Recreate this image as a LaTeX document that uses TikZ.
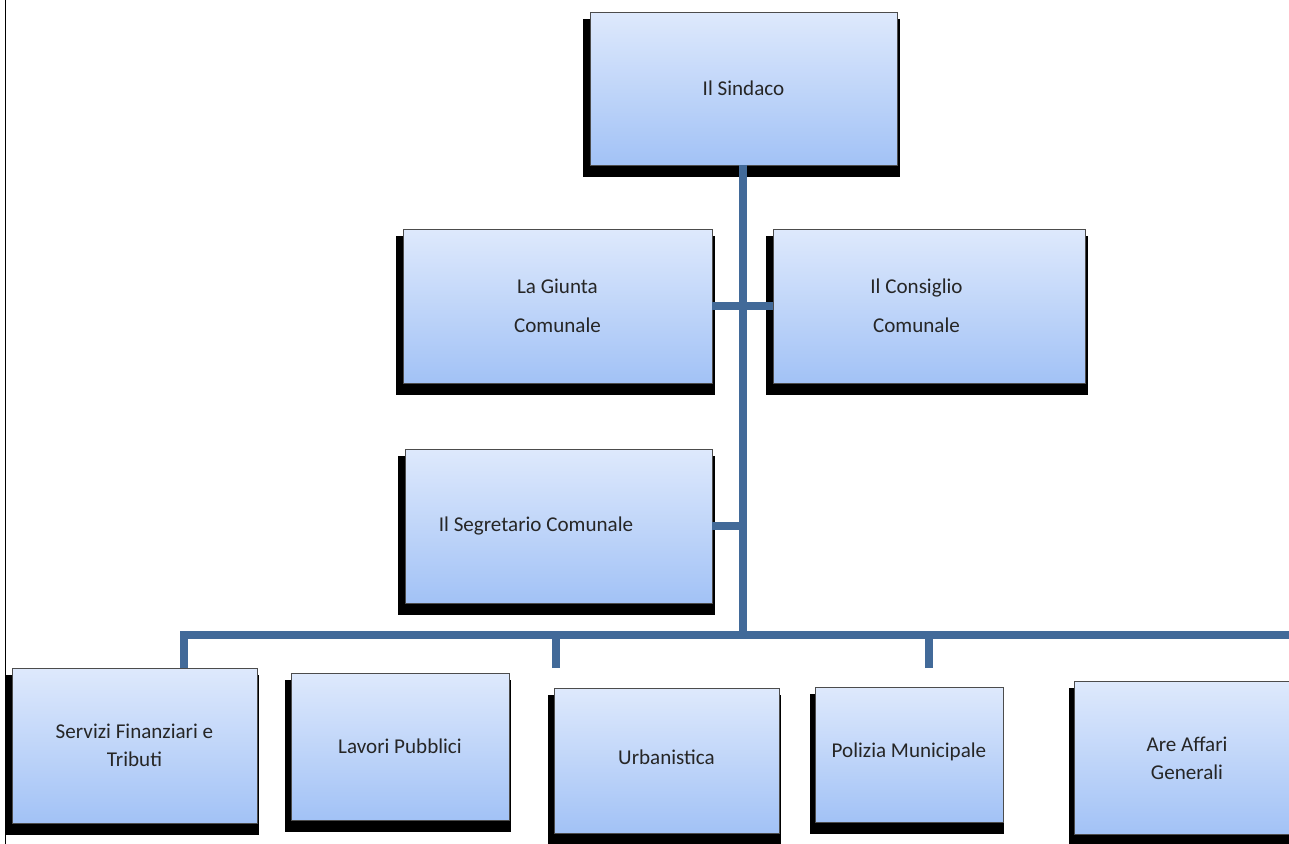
\documentclass[tikz,border=0pt]{standalone}
\usepackage{fontspec}
\setmainfont{Carlito}
\usetikzlibrary{shadows,positioning}

\definecolor{boxtop}{RGB}{222,233,252}
\definecolor{boxbot}{RGB}{162,194,246}
\definecolor{linkblue}{RGB}{66,106,153}

\begin{document}
\begin{tikzpicture}[x=0.02cm, y=-0.02cm,
  box/.style = {shape = rectangle, draw = black!70, thin, top color = boxtop, bottom color = boxbot,
    align = center, font = \fontsize{12}{16}\selectfont, text = black!85,
    drop shadow = {shadow xshift = -0.04cm, shadow yshift = -0.18cm, shadow scale = 1.035,
      rounded corners = 2pt, fill = black, opacity = 1}},
  link/.style = {draw = linkblue, line width = 4.5pt}]
\useasboundingbox (0,0) rectangle (1289,844);
\clip (0,0) rectangle (1289,844);
\draw[black, line width = 0.9pt] (5.5,0) -- (5.5,844);

\node[box, minimum width = 6.14cm, minimum height = 3.06cm] (sindaco) at (743.5,88.5) {Il Sindaco};
\node[box, minimum width = 6.18cm, minimum height = 3.08cm] (giunta) at (557.5,306) {La Giunta\\[6pt]Comunale};
\node[box, minimum width = 6.24cm, minimum height = 3.08cm] (consiglio) at (929,306) {\hspace*{-0.5cm}Il Consiglio\\[6pt]\hspace*{-0.5cm}Comunale};
\node[box, minimum width = 6.14cm, minimum height = 3.08cm] (segr) at (558.5,526) {\hspace*{-0.9cm}Il Segretario Comunale};

\node[box, minimum width = 4.90cm, minimum height = 3.10cm] (servizi) at (134.5,745.5) {Servizi Finanziari e\\Tributi};
\node[box, minimum width = 4.36cm, minimum height = 2.94cm] (lavori) at (400,746.5) {Lavori Pubblici};
\node[box, minimum width = 4.50cm, minimum height = 2.90cm] (urban) at (666.5,760.5) {\raisebox{0.14cm}{Urbanistica}};
\node[box, minimum width = 3.76cm, minimum height = 2.70cm] (polizia) at (909,754.5) {\raisebox{0.19cm}{Polizia Municipale}};
\node[box, minimum width = 4.50cm, minimum height = 3.06cm] (affari) at (1187,758) {Are Affari\\Generali};

% linee di collegamento
\coordinate (bus) at (743,635);
\coordinate (busend) at (1295,635);
\coordinate (urbtop) at (556,668);
\coordinate (poltop) at (929,668);
\draw[link] (sindaco.south -| bus) -- (bus);
\draw[link] (giunta) -- (consiglio);
\draw[link] (segr.east) -- (segr.east -| bus);
\draw[link] (servizi.north -| 184,0) |- (busend);
\draw[link] (urbtop) -- (urbtop |- bus);
\draw[link] (poltop) -- (poltop |- bus);
\end{tikzpicture}
\end{document}
